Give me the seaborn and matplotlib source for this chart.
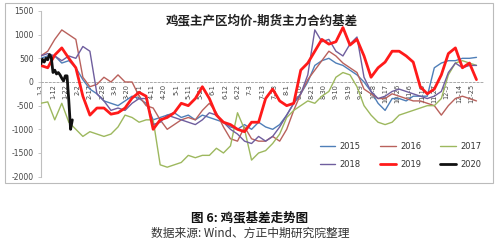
import numpy as np
import pandas as pd
import matplotlib
matplotlib.use("Agg")
import matplotlib.pyplot as plt
from matplotlib.patches import Rectangle
import seaborn as sns

# ---------------- data ----------------
days = list(range(0, 252, 4))          # trading-day index (sampled)
days_2020 = list(range(0, 19))

s2015 = [500, 550, 550, 400, 450, 300, 50, -150, -250, -400, -450, -500, -400, -300, -350, -450,
         -800, -750, -700, -650, -750, -700, -800, -700, -750, -800, -850, -950, -1000, -900, -1000,
         -850, -950, -1000, -900, -700, -450, -250, 0, 350, 450, 500, 400, 350, 250, 150, 0, -200,
         -450, -600, -350, -350, -400, -300, -300, -300, 300, 400, 450, 450, 500, 500, 520]
s2016 = [550, 650, 900, 1100, 1000, 900, 100, -100, -50, 100, 0, 150, 0, 0, -300, -500,
         -550, -800, -1000, -900, -800, -750, -800, -600, -450, -650, -950, -1200, -1250, -950, -1200,
         -1250, -1250, -1150, -1250, -1000, -600, -250, 50, 250, 450, 650, 550, 400, 300, 200, -150, -250,
         -350, -350, -250, -300, -350, -400, -400, -450, -500, -700, -500, -350, -300, -350, -400]
s2017 = [-450, -420, -800, -450, -850, -1000, -1150, -1050, -1100, -1150, -1100, -950, -700, -750, -850, -800,
         -800, -1750, -1800, -1750, -1700, -1550, -1600, -1550, -1550, -1400, -1500, -1350, -650, -1000, -1650,
         -1500, -1450, -1300, -1100, -750, -600, -500, -400, -450, -300, -200, 100, 200, 150, -100, -500, -700,
         -850, -900, -850, -700, -650, -600, -550, -500, -500, -350, 150, 400, 450, 400, 350]
s2018 = [550, 600, 550, 450, 550, 500, 750, 650, -250, -400, -600, -550, -600, -450, -350, -350,
         -900, -850, -700, -750, -800, -850, -900, -800, -650, -700, -850, -1000, -1100, -1250, -1300,
         -1150, -1250, -1150, -950, -700, -450, -250, 150, 1100, 850, 900, 650, 550, 800, 950, 100, -200,
         -350, -300, -200, -150, -200, -250, -300, -350, -300, -200, 200, 400, 300, 350, 350]
s2019 = [350, 300, 570, 720, 500, 300, -300, -700, -550, -550, -680, -650, -550, -340, -220, -300,
         -1000, -800, -750, -650, -450, -500, -350, -100, -350, -700, -850, -900, -1000, -1050, -850,
         -850, -350, -150, -400, -500, -450, 250, 400, 650, 900, 800, 850, 1150, 780, 900, 550, 100,
         300, 420, 650, 650, 550, 420, -100, -250, -150, 150, 600, 720, 300, 400, 50]
s2020 = [380, 480, 420, 500, 470, 580, 520, 200, 250, 170, 200, 150, 80, 20, 130, 130, -400, -1000, -800]

tick_days = list(range(0, 252, 7))
tick_labels = ["1-3", "1-12", "1-22", "2-2", "2-17", "2-28", "3-9", "3-20", "3-31", "4-11", "4-20",
               "5-1", "5-11", "5-21", "6-1", "6-12", "6-22", "7-3", "7-13", "7-23", "8-1", "8-10",
               "8-21", "8-30", "9-10", "9-19", "9-29", "10-8", "10-17", "10-26", "11-6", "11-16",
               "11-27", "12-5", "12-14", "12-25"]
yticks = [1500, 1000, 500, 0, -500, -1000, -1500, -2000]

years = ["2015", "2016", "2017", "2018", "2019", "2020"]
colors = {"2015": "#4F7FB8", "2016": "#B9615C", "2017": "#9DB85E",
          "2018": "#6F5E9E", "2019": "#FF1A1A", "2020": "#111111"}
widths = {"2015": 1.0, "2016": 1.0, "2017": 1.0, "2018": 1.0, "2019": 2.0, "2020": 2.0}

series = {"2015": s2015, "2016": s2016, "2017": s2017, "2018": s2018, "2019": s2019}
frames = [pd.DataFrame({"day": days, "value": v, "year": k}) for k, v in series.items()]
frames.append(pd.DataFrame({"day": days_2020, "value": s2020, "year": "2020"}))
df = pd.concat(frames, ignore_index=True)

# ---------------- plot ----------------
sns.set_style("white")
plt.rcParams["font.family"] = ["Noto Sans CJK SC", "DejaVu Sans"]

fig = plt.figure(figsize=(5.0, 2.44), dpi=100)
ax = fig.add_axes([0.0814, 0.276, 0.8856, 0.679])

for y in years:
    sub = df[df["year"] == y]
    sns.lineplot(data=sub, x="day", y="value", ax=ax, color=colors[y],
                 linewidth=widths[y], label=y, zorder=5 if y in ("2019", "2020") else 3)

ax.set_xlim(0, 252)
ax.set_ylim(-2000, 1500)
ax.set_xlabel("")
ax.set_ylabel("")

# spines first (set_position resets tick objects)
for s in ["top", "right"]:
    ax.spines[s].set_visible(False)
ax.spines["left"].set_color("#BFBFBF")
ax.spines["left"].set_linewidth(0.8)
ax.spines["bottom"].set_position(("data", 0))
ax.spines["bottom"].set_color("#AAAAAA")
ax.spines["bottom"].set_linestyle((0, (2, 2)))
ax.spines["bottom"].set_linewidth(0.7)

ax.set_yticks(yticks)
ax.set_yticklabels([str(t) for t in yticks])
ax.set_xticks(tick_days)
ax.set_xticklabels(tick_labels)
ax.tick_params(axis="x", length=0, pad=1.5, labelrotation=90, labelsize=4.8, labelcolor="#444444")
ax.tick_params(axis="y", length=2, width=0.6, color="#BFBFBF", pad=3, left=True,
               labelsize=5.5, labelcolor="#444444")
for t in ax.get_xticklabels() + ax.get_yticklabels():
    t.set_family("DejaVu Sans")

ax.text(0.5, 0.94, "鸡蛋主产区均价-期货主力合约基差", transform=ax.transAxes,
        ha="center", va="center", fontsize=9, fontweight="bold", color="#222222")

h, l = ax.get_legend_handles_labels()
order = [0, 3, 1, 4, 2, 5]
leg = ax.legend([h[i] for i in order], [l[i] for i in order], ncol=3, loc="lower right",
                bbox_to_anchor=(1.012, 0.0), frameon=False, fontsize=6,
                handlelength=1.9, handletextpad=0.5, columnspacing=2.3, labelspacing=1.1)
for t in leg.get_texts():
    t.set_color("#333333")
    t.set_family("DejaVu Sans")

fig.patches.append(Rectangle((5 / 500, 1 - 183 / 244), 488 / 500, 180 / 244,
                             transform=fig.transFigure, fill=False,
                             edgecolor="#BBBBBB", linewidth=0.8))

fig.text(0.5, 1 - 218 / 244, "图 6: 鸡蛋基差走势图", ha="center", va="center",
         fontsize=9, fontweight="bold", color="#111111")
fig.text(0.5, 1 - 233 / 244, "数据来源: Wind、方正中期研究院整理", ha="center", va="center",
         fontsize=8.5, color="#333333")

fig.savefig("out.png", dpi=100)
